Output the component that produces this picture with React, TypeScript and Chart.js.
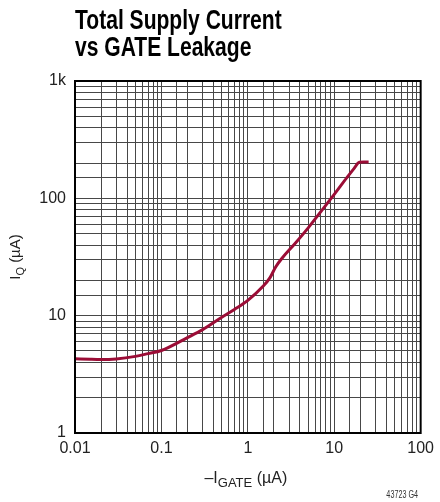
import React, { useEffect, useRef } from "react";
import { Chart, registerables } from "chart.js";

Chart.register(...registerables);

// ---- data ----
const titleLines: string[] = ["Total Supply Current", "vs GATE Leakage"];
const gateCurrent: number[] = [
  0.01, 0.015, 0.02, 0.03, 0.05, 0.07, 0.1, 0.2, 0.3, 0.5, 0.7, 1, 1.5, 1.8,
  2.1, 2.5, 3.5, 5, 7, 10, 14, 17, 19.5, 22, 25,
];
const supplyCurrent: number[] = [
  4.3, 4.25, 4.23, 4.28, 4.5, 4.75, 5.05, 6.5, 7.6, 9.7, 11.3, 13.5, 17.8, 21,
  26, 31, 41, 56, 77, 108, 150, 180, 203, 204, 204,
];
const xRange: number[] = [0.01, 100];
const yRange: number[] = [1, 1000];
const xTitleParts: [string, boolean][] = [["–I", false], ["GATE", true], [" (µA)", false]];
const yTitleParts: [string, boolean][] = [["I", false], ["Q", true], [" (µA)", false]];
const figureId = "43723 G4";

const FONT = '"Liberation Sans", Arial, Helvetica, sans-serif';

function decadeLabel(v: number): string {
  const l = Math.log10(v);
  const e = Math.round(l);
  if (Math.abs(l - e) > 1e-6) return "";
  if (e >= 3) return Math.pow(10, e - 3) + "k";
  if (e < 0) return Math.pow(10, e).toFixed(-e);
  return String(Math.pow(10, e));
}

function drawRich(
  ctx: CanvasRenderingContext2D,
  parts: [string, boolean][],
  size: number,
  subSize: number,
  subDy: number
) {
  let total = 0;
  const widths: number[] = [];
  parts.forEach(([t, sub]) => {
    ctx.font = `${sub ? subSize : size}px ${FONT}`;
    const w = ctx.measureText(t).width;
    widths.push(w);
    total += w;
  });
  let x = -total / 2;
  parts.forEach(([t, sub], i) => {
    ctx.font = `${sub ? subSize : size}px ${FONT}`;
    ctx.fillText(t, x, sub ? subDy : 0);
    x += widths[i];
  });
}

const decor = {
  id: "decor",
  afterDraw(chart: any) {
    const { ctx, chartArea: a } = chart;
    ctx.save();
    // frame
    ctx.strokeStyle = "#000";
    ctx.lineWidth = 2;
    ctx.strokeRect(a.left, a.top, a.right - a.left, a.bottom - a.top);

    // title
    ctx.fillStyle = "#000";
    ctx.textAlign = "left";
    ctx.textBaseline = "alphabetic";
    ctx.font = `bold 27px ${FONT}`;
    ctx.save();
    ctx.translate(a.left, 0);
    ctx.scale(0.78, 1);
    titleLines.forEach((t, i) => ctx.fillText(t, 0, 29 + i * 27));
    ctx.restore();

    // axis titles
    ctx.fillStyle = "#222";
    ctx.save();
    ctx.translate((a.left + a.right) / 2 - 2, 483);
    drawRich(ctx, xTitleParts, 16, 13, 4);
    ctx.restore();

    ctx.save();
    ctx.translate(20, (a.top + a.bottom) / 2);
    ctx.rotate(-Math.PI / 2);
    drawRich(ctx, yTitleParts, 15, 11, 4);
    ctx.restore();

    // figure id
    ctx.fillStyle = "#333";
    ctx.save();
    ctx.translate(418, 498);
    ctx.scale(0.72, 1);
    ctx.textAlign = "right";
    ctx.font = `10px ${FONT}`;
    ctx.fillText(figureId, 0, 0);
    ctx.restore();

    ctx.restore();
  },
};

export default function App() {
  const ref = useRef<HTMLCanvasElement | null>(null);

  useEffect(() => {
    document.body.style.margin = "0";
    const canvas = ref.current;
    if (!canvas) return;
    const chart = new Chart(canvas, {
      type: "line",
      data: {
        datasets: [
          {
            data: gateCurrent.map((x, i) => ({ x, y: supplyCurrent[i] })),
            borderColor: "#9b0d36",
            borderWidth: 3,
            pointRadius: 0,
            tension: 0.4,
            cubicInterpolationMode: "monotone",
            fill: false,
          },
        ],
      },
      options: {
        responsive: false,
        animation: false,
        layout: { padding: { top: 81, right: 13, left: 0, bottom: 0 } },
        plugins: {
          legend: { display: false },
          tooltip: { enabled: false },
          title: { display: false },
        },
        scales: {
          x: {
            type: "logarithmic",
            min: xRange[0],
            max: xRange[1],
            afterFit: (s: any) => {
              s.height = 69;
            },
            grid: { color: "#474747", lineWidth: 1, drawTicks: false },
            border: { display: false },
            ticks: {
              autoSkip: false,
              maxRotation: 0,
              padding: 6,
              color: "#222",
              font: { size: 16, family: FONT },
              callback: (v: any) => decadeLabel(Number(v)),
            },
          },
          y: {
            type: "logarithmic",
            min: yRange[0],
            max: yRange[1],
            afterFit: (s: any) => {
              s.width = 75;
            },
            grid: { color: "#474747", lineWidth: 1, drawTicks: false },
            border: { display: false },
            ticks: {
              autoSkip: false,
              padding: 9,
              color: "#222",
              font: { size: 16, family: FONT },
              callback: (v: any) => decadeLabel(Number(v)),
            },
          },
        },
      },
      plugins: [decor],
    } as any);
    return () => chart.destroy();
  }, []);

  return (
    <div style={{ width: 440, height: 502 }}>
      <canvas ref={ref} width={440} height={502} style={{ width: 440, height: 502, display: "block" }} />
    </div>
  );
}
